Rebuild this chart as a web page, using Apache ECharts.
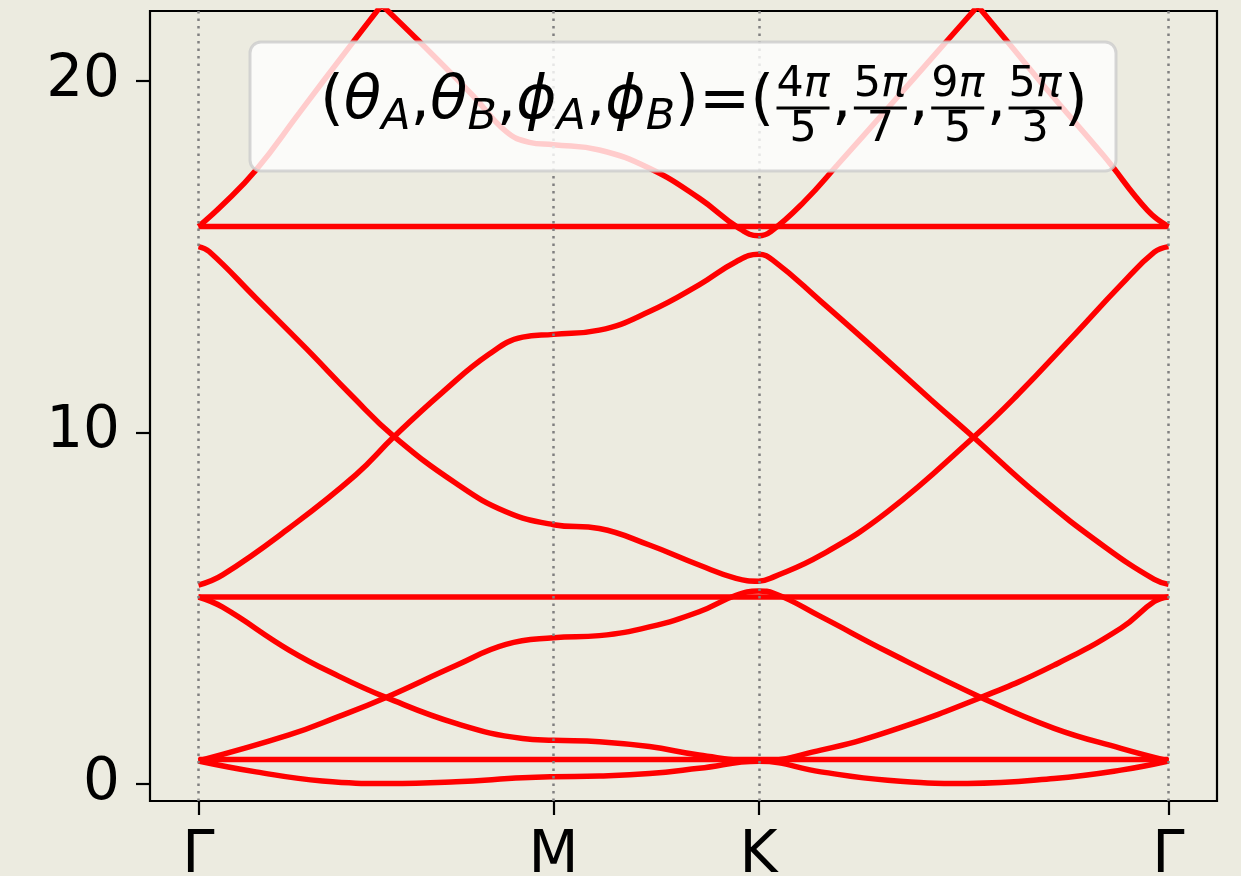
<!DOCTYPE html>
<html>
<head>
<meta charset="utf-8">
<script src="https://cdn.jsdelivr.net/npm/echarts@6/dist/echarts.min.js"></script>
<style>
  html, body { margin: 0; padding: 0; background: #ecebe0; }
  #chart { width: 1241px; height: 876px; }
</style>
</head>
<body>
<div id="chart"></div>
<script>
// High-symmetry points along the path Γ–M–K–Γ (path length, |ΓM| = 1)
const kTicks = [0, 1, 1.5774, 2.7321];
const kLabels = ['Γ', 'M', 'K', 'Γ'];
const yTicks = [0, 10, 20];

// Flat bands
const flatLevels = [0.68, 5.31, 15.86];

// Dispersive bands, [k, E]
const band1 = [[0, 0.64], [0.162, 0.33], [0.349, 0.07], [0.537, 0.0], [0.725, 0.05], [0.913, 0.16], [1, 0.19],
  [1.129, 0.21], [1.270, 0.28], [1.410, 0.43], [1.5774, 0.63],
  [1.753, 0.33], [1.941, 0.09], [2.166, 0.0], [2.410, 0.14], [2.598, 0.38], [2.7321, 0.64]];
const band2 = [[0, 0.64], [0.255, 1.38], [0.396, 1.91], [0.528, 2.45], [0.725, 3.36], [0.866, 3.96], [1, 4.15],
  [1.129, 4.21], [1.270, 4.46], [1.410, 4.89], [1.514, 5.36], [1.5774, 5.48],
  [1.622, 5.41], [1.753, 4.75], [1.941, 3.75], [2.204, 2.45], [2.410, 1.57], [2.598, 1.0], [2.7321, 0.64]];
const band3 = [[0, 5.31], [0.068, 5.02], [0.255, 3.80], [0.396, 3.05], [0.528, 2.45], [0.725, 1.71], [0.913, 1.28], [1, 1.23],
  [1.129, 1.19], [1.270, 1.05], [1.410, 0.81], [1.5774, 0.64],
  [1.753, 0.95], [1.941, 1.47], [2.204, 2.45], [2.410, 3.37], [2.598, 4.42], [2.692, 5.18], [2.7321, 5.31]];
const band4 = [[0, 5.65], [0.068, 5.94], [0.255, 7.27], [0.443, 8.79], [0.551, 9.88], [0.687, 11.14], [0.819, 12.23], [0.913, 12.71], [1, 12.79],
  [1.129, 12.91], [1.270, 13.44], [1.410, 14.2], [1.514, 14.86], [1.5774, 15.07],
  [1.622, 14.87], [1.753, 13.73], [1.894, 12.47], [2.063, 10.93], [2.183, 9.86], [2.363, 8.23], [2.551, 6.75], [2.692, 5.81], [2.7321, 5.67]];
const band5 = [[0, 15.29], [0.030, 15.15], [0.162, 13.82], [0.303, 12.39], [0.434, 11.02], [0.551, 9.88], [0.725, 8.55], [0.866, 7.74], [1, 7.37],
  [1.129, 7.26], [1.270, 6.79], [1.410, 6.22], [1.514, 5.84], [1.5774, 5.76],
  [1.622, 5.89], [1.753, 6.5], [1.941, 7.74], [2.183, 9.86], [2.307, 11.07], [2.457, 12.67], [2.598, 14.2], [2.692, 15.13], [2.7321, 15.29]];
// Top band, split at its two cusps
const band6a = [[0, 15.86], [0.068, 16.48], [0.162, 17.47], [0.284, 19.1], [0.425, 20.98], [0.516, 22.17]];
const band6b = [[0.516, 22.17], [0.622, 21.13], [0.772, 19.6], [0.866, 18.57], [0.932, 18.26], [1, 18.19],
  [1.129, 18.04], [1.270, 17.52], [1.410, 16.67], [1.523, 15.81], [1.5774, 15.6],
  [1.612, 15.72], [1.706, 16.57], [1.800, 17.62], [1.941, 19.23], [2.082, 20.85], [2.195, 22.14]];
const band6c = [[2.195, 22.14], [2.270, 21.23], [2.410, 19.52], [2.551, 17.86], [2.673, 16.32], [2.7321, 15.86]];

const bands = [band1, band2, band3, band4, band5, band6a, band6b, band6c];

const BG = '#ecebe0';
const FONT = '"DejaVu Sans"';
const kMin = -0.1366, kMax = 2.8687;
const RED = '#ff0000';
const LW = 5.5;

const series = bands.map(b => ({
  type: 'line', data: b, showSymbol: false, smooth: 0.45, clip: true, z: 2,
  lineStyle: { color: RED, width: LW }, silent: true
}));
flatLevels.forEach(e => series.push({
  type: 'line', data: [[kTicks[0], e], [kTicks[kTicks.length - 1], e]], showSymbol: false, z: 2,
  lineStyle: { color: RED, width: LW }, silent: true
}));
// Dotted guides at the high-symmetry points
series.push({
  type: 'line', data: [], z: 3, silent: true,
  markLine: {
    silent: true, symbol: 'none', animation: false, label: { show: false },
    lineStyle: { color: '#808080', type: [2.5, 5], width: 2.5 },
    data: kTicks.map(k => ({ xAxis: k }))
  }
});

// Annotation: (θ_A, θ_B, ϕ_A, ϕ_B) = (4π/5, 5π/7, 9π/5, 5π/3)
const lhs = [['(', 0], ['θ', 1], ['A', 1, 1], [',', 0], ['θ', 1], ['B', 1, 1], [',', 0],
  ['ϕ', 1], ['A', 1, 1], [',', 0], ['ϕ', 1], ['B', 1, 1], [')', 0], ['=', 0], ['(', 0]];
const fracs = [['4', '5'], ['5', '7'], ['9', '5'], ['5', '3']];

const ctx = document.createElement('canvas').getContext('2d');
function textW(t, size, it) {
  ctx.font = (it ? 'italic ' : '') + size + 'px ' + FONT;
  return ctx.measureText(t).width;
}

function layout(S) {
  const items = [], bars = [];
  const sub = 0.7 * S, fr = 0.7 * S;
  let x = 0;
  lhs.forEach(([t, it, isSub]) => {
    const size = isSub ? sub : S;
    items.push({ t, it, size, x, role: isSub ? 'sub' : 'main' });
    x += textW(t, size, it);
  });
  fracs.forEach(([n, d], i) => {
    const wn = textW(n, fr, 0) + textW('π', fr, 1);
    const wd = textW(d, fr, 0);
    const w = Math.max(wn, wd) + 0.08 * S;
    items.push({ t: n, it: 0, size: fr, x: x + (w - wn) / 2, role: 'num' });
    items.push({ t: 'π', it: 1, size: fr, x: x + (w - wn) / 2 + textW(n, fr, 0), role: 'num' });
    items.push({ t: d, it: 0, size: fr, x: x + (w - wd) / 2, role: 'den' });
    bars.push({ x: x + 0.04 * S, w: w - 0.08 * S });
    x += w;
    const last = i === fracs.length - 1;
    const tail = last ? ')' : ',';
    items.push({ t: tail, it: 0, size: S, x, role: 'main' });
    x += textW(tail, S, 0);
  });
  return { items, bars, width: x };
}

const S0 = 56;
const probe = layout(S0);
const S = S0 * 768 / probe.width;
const title = layout(S);
const X0 = 320;
const baseOf = { main: 120, sub: 131, num: 98, den: 143 };
const MID = 0.297;

const titleEls = title.items.map(p => ({
  type: 'text', z: 101, silent: true,
  style: {
    text: p.t, x: X0 + p.x, y: baseOf[p.role] - MID * p.size,
    font: (p.it ? 'italic ' : '') + p.size.toFixed(1) + 'px ' + FONT,
    fill: '#000000', align: 'left', verticalAlign: 'middle'
  }
}));
const barEls = title.bars.map(b => ({
  type: 'rect', z: 101, silent: true,
  shape: { x: X0 + b.x, y: 106.5, width: b.w, height: 3 },
  style: { fill: '#000000' }
}));

const chart = echarts.init(document.getElementById('chart'), null, { renderer: 'canvas' });
chart.setOption({
  backgroundColor: BG,
  animation: false,
  grid: {
    left: 150, right: 24, top: 11, bottom: 75, show: true, backgroundColor: BG,
    borderColor: '#000000', borderWidth: 2.2, containLabel: false, outerBoundsMode: 'none'
  },
  xAxis: {
    type: 'value', min: kMin, max: kMax,
    axisLine: { show: false, onZero: false },
    splitLine: { show: false },
    axisTick: { show: true, length: 14, customValues: kTicks, lineStyle: { color: '#000000', width: 2.2 } },
    axisLabel: {
      customValues: kTicks, margin: 27, color: '#000000', fontFamily: FONT, fontSize: 58,
      formatter: v => {
        let best = 0;
        kTicks.forEach((k, i) => { if (Math.abs(k - v) < Math.abs(kTicks[best] - v)) best = i; });
        return kLabels[best];
      }
    }
  },
  yAxis: {
    type: 'value', min: -0.5, max: 22,
    axisLine: { show: false, onZero: false },
    splitLine: { show: false },
    axisTick: { show: true, length: 14, customValues: yTicks, lineStyle: { color: '#000000', width: 2.2 } },
    axisLabel: { customValues: yTicks, margin: 30, color: '#000000', fontFamily: FONT, fontSize: 58 }
  },
  graphic: [
    {
      type: 'rect', z: 100, silent: true,
      shape: { x: 250, y: 42, width: 866, height: 129, r: 11 },
      style: { fill: 'rgba(255,255,255,0.8)', stroke: 'rgba(204,204,204,0.8)', lineWidth: 3 }
    },
    ...barEls,
    ...titleEls
  ],
  series
});
</script>
</body>
</html>
